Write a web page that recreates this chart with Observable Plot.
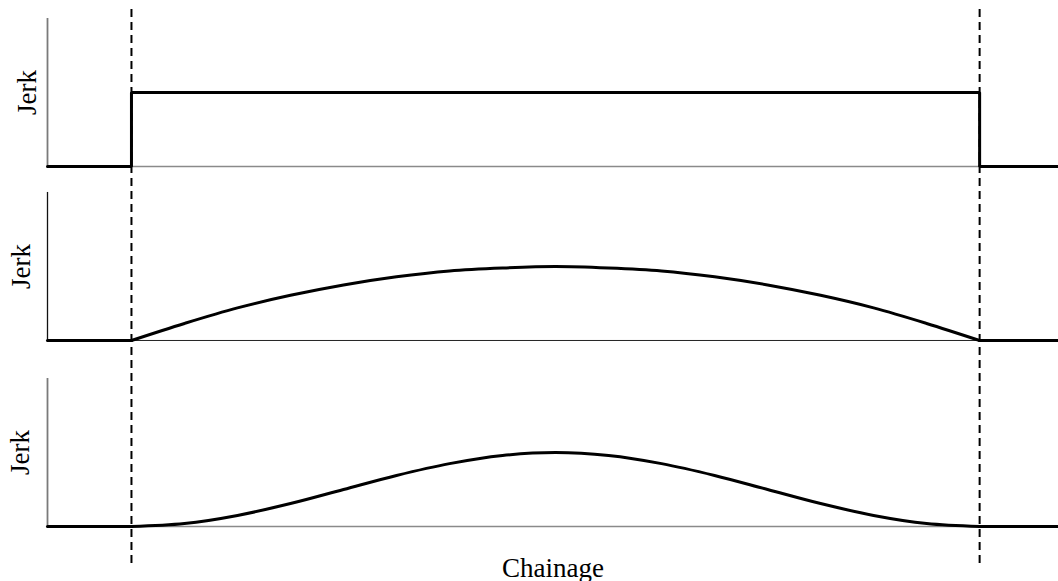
<!DOCTYPE html>
<html>
<head>
<meta charset="utf-8">
<script src="https://cdn.jsdelivr.net/npm/d3@7"></script>
<script src="https://cdn.jsdelivr.net/npm/@observablehq/plot@0.6"></script>
<style>
  html, body { margin: 0; padding: 0; background: #fff; }
  #chart { width: 1058px; height: 581px; }
</style>
</head>
<body>
<div id="chart"></div>
<script>
// ---- data ----
const chainageStart = -0.099;   // left end of the drawn chainage
const chainageEnd = 1.093;      // right end
const transitionStart = 0;      // dashed line 1
const transitionEnd = 1;        // dashed line 2

// Panel 1: rectangular jerk (step)
const stepChainage = [chainageStart, 0, 0, 1, 1, chainageEnd];
const stepJerk     = [0, 0, 1, 1, 0, 0];

// Panels 2 and 3: sampled chainage along the transition
const curveChainage = [0, 0.0625, 0.125, 0.1875, 0.25, 0.3125, 0.375, 0.4375, 0.5,
                       0.5625, 0.625, 0.6875, 0.75, 0.8125, 0.875, 0.9375, 1];
// Panel 2: parabolic jerk
const parabolicJerk = [0, 0.23, 0.44, 0.61, 0.75, 0.86, 0.94, 0.98, 1.0,
                       0.98, 0.94, 0.86, 0.75, 0.61, 0.44, 0.23, 0];
// Panel 3: smooth bell-shaped jerk
const bellJerk = [0, 0.04, 0.15, 0.31, 0.5, 0.69, 0.85, 0.96, 1.0,
                  0.96, 0.85, 0.69, 0.5, 0.31, 0.15, 0.04, 0];

const yLabel = "Jerk";
const xLabel = "Chainage";
const jerkMax = 2; // each panel's axis spans 0..2

// ---- layout (panel vertical offsets in the shared y scale) ----
const panelOffsets = [4.865, 2.514, 0];
const panelAxisColor = ["#7a7a7a", "#111", "#7a7a7a"];
const panelBaseColor = ["#8a8a8a", "#222", "#8a8a8a"];
const labelDx = [-12, -18, -19];

const flat = (off) => [
  [{x: chainageStart, y: off}, {x: transitionStart, y: off}],
  [{x: transitionEnd, y: off}, {x: chainageEnd, y: off}]
];

const marks = [];

panelOffsets.forEach((off, i) => {
  // left axis
  marks.push(Plot.ruleX([chainageStart], {y1: off, y2: off + jerkMax, stroke: panelAxisColor[i], strokeWidth: i === 1 ? 1.3 : 1.8}));
  // baseline
  marks.push(Plot.ruleY([off], {x1: chainageStart, x2: chainageEnd, stroke: panelBaseColor[i], strokeWidth: i === 1 ? 1 : 1.4}));
  // y label
  marks.push(Plot.text([yLabel], {x: chainageStart, y: off + jerkMax / 2, dx: labelDx[i], text: d => d, rotate: -90,
    textAnchor: "middle", lineAnchor: "bottom", fontSize: 27, fontFamily: "Liberation Serif", fill: "#000"}));
});

// Panel 1: step
marks.push(Plot.line(stepChainage.map((c, j) => ({x: c, y: panelOffsets[0] + stepJerk[j]})),
  {x: "x", y: "y", stroke: "#000", strokeWidth: 3, strokeLinejoin: "miter"}));

// Panel 2 & 3: flat parts + curves
[[parabolicJerk, 1], [bellJerk, 2]].forEach(([vals, p]) => {
  const off = panelOffsets[p];
  flat(off).forEach(seg => marks.push(Plot.line(seg, {x: "x", y: "y", stroke: "#000", strokeWidth: 3})));
  marks.push(Plot.line(curveChainage.map((c, j) => ({x: c, y: off + vals[j]})),
    {x: "x", y: "y", stroke: "#000", strokeWidth: 3, curve: "catmull-rom"}));
});

// dashed transition markers spanning all panels
marks.push(Plot.ruleX([transitionStart, transitionEnd], {y1: -0.5, y2: 6.986, stroke: "#000", strokeWidth: 2, strokeDasharray: "8,5"}));

// x label
marks.push(Plot.text([xLabel], {x: (chainageStart + chainageEnd) / 2, y: -0.676, text: d => d,
  textAnchor: "middle", lineAnchor: "bottom", fontSize: 27, fontFamily: "Liberation Serif", fill: "#000"}));

const chart = Plot.plot({
  width: 1058,
  height: 581,
  marginLeft: 47,
  marginRight: 0,
  marginTop: 0,
  marginBottom: 0,
  x: {domain: [chainageStart, chainageEnd], axis: null},
  y: {domain: [-0.743, 7.108], axis: null},
  style: {background: "#fff", overflow: "visible"},
  marks
});
document.getElementById("chart").appendChild(chart);
</script>
</body>
</html>
